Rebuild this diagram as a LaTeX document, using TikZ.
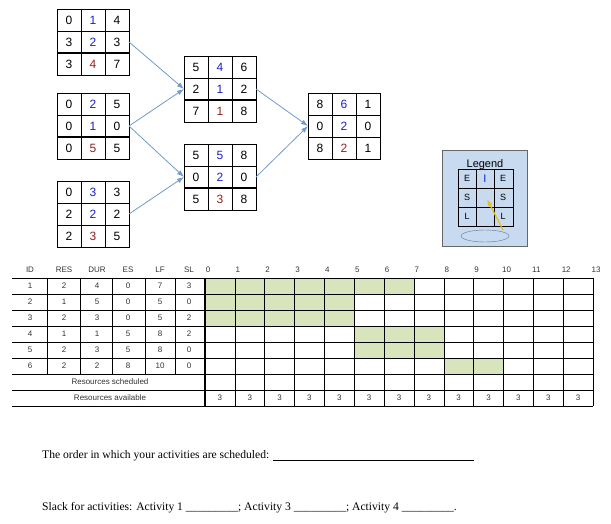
\documentclass[tikz,border=0pt]{standalone}
\usepackage{fontspec}
\setmainfont{Liberation Sans}
\newfontfamily\serif{Liberation Serif}
\usetikzlibrary{arrows.meta}
\definecolor{blu}{RGB}{30,30,200}
\definecolor{redb}{RGB}{150,30,30}
\definecolor{arr}{RGB}{110,155,205}
\definecolor{grn}{RGB}{215,228,188}
\definecolor{lgd}{RGB}{200,218,240}
\definecolor{yel}{RGB}{235,190,30}
\tikzset{
 num/.style={font=\fontsize{12}{13}\selectfont},
 tab/.style={font=\fontsize{8}{9}\selectfont, text=black!80},
 link/.style={draw=arr, line width=0.8pt, -{Latex[length=7pt,width=5pt]}},
 q/.style={anchor=west, font=\serif\fontsize{11.6}{13}\selectfont, inner sep=0},
}
\newcommand{\netbox}[4]{% name, x, y, thick width
 \begin{scope}[shift={(#2,#3)}]
  \draw[line width=0.8pt] (0,0) rectangle (72,66);
  \draw[line width=0.8pt] (24,0)--(24,66) (48,0)--(48,66) (0,22)--(72,22);
  \draw[line width=#4] (0,44)--(72,44);
  \coordinate (#1-l) at (0,33); \coordinate (#1-r) at (72,33);
 \end{scope}}
\newcommand{\cells}[6]{%
 \node[num] at (#1+12,#2+#3*22-11) {#4};
 \node[num] at (#1+36,#2+#3*22-11) {#5};
 \node[num] at (#1+60,#2+#3*22-11) {#6};}
\begin{document}
\begin{tikzpicture}[x=1pt,y=-1pt]
\useasboundingbox (0,0) rectangle (611,524);
\netbox{b1}{57}{9}{1.6pt}
\cells{57}{9}{1}{0}{\color{blu}1}{4}\cells{57}{9}{2}{3}{\color{blu}2}{3}\cells{57}{9}{3}{3}{\color{redb}4}{7}
\netbox{b2}{57}{93}{1.6pt}
\cells{57}{93}{1}{0}{\color{blu}2}{5}\cells{57}{93}{2}{0}{\color{blu}1}{0}\cells{57}{93}{3}{0}{\color{redb}5}{5}
\netbox{b3}{57}{181}{0.8pt}
\cells{57}{181}{1}{0}{\color{blu}3}{3}\cells{57}{181}{2}{2}{\color{blu}2}{2}\cells{57}{181}{3}{2}{\color{redb}3}{5}
\netbox{b4}{184}{56}{1.6pt}
\cells{184}{56}{1}{5}{\color{blu}4}{6}\cells{184}{56}{2}{2}{\color{blu}1}{2}\cells{184}{56}{3}{7}{\color{redb}1}{8}
\netbox{b5}{184}{144}{1.6pt}
\cells{184}{144}{1}{5}{\color{blu}5}{8}\cells{184}{144}{2}{0}{\color{blu}2}{0}\cells{184}{144}{3}{5}{\color{redb}3}{8}
\netbox{b6}{308}{93}{0.8pt}
\cells{308}{93}{1}{8}{\color{blu}6}{1}\cells{308}{93}{2}{0}{\color{blu}2}{0}\cells{308}{93}{3}{8}{\color{redb}2}{1}
\draw[link] (b1-r)--(b4-l);
\draw[link] (b2-r)--(b4-l);
\draw[link] (b2-r)--(b5-l);
\draw[link] (b3-r)--(b5-l);
\draw[link] (b4-r)--(b6-l);
\draw[link] (b5-r)--(b6-l);
% legend
\draw[black!60, fill=lgd] (442,150) rectangle (527,246);
\draw[line width=0.7pt] (458,169) rectangle (513,226);
\draw[line width=0.7pt] (476,169)--(476,226) (494,169)--(494,226) (458,188)--(513,188) (458,207)--(513,207);
\node[font=\fontsize{11}{12}\selectfont] (lg) at (485,165) {Legend};
\foreach \t/\x/\y in {E/467/178.5,E/503/178.5,S/467/197.5,S/503/197.5,L/467/216.5,L/503/216.5}
  \node[font=\fontsize{9}{10}\selectfont] at (\x,\y) {\t};
\node[font=\fontsize{11}{11}\selectfont, text=blu] at (485,178.5) {I};
\draw[draw=arr!80!black, fill=lgd] (485,236) ellipse (24 and 6);
\coordinate (ys) at (503,230); \coordinate (ye) at (487,199);
\draw[draw=yel, line width=1.2pt, -{Latex[length=7pt,width=5pt]}] (ys)--(ye);
% table
\foreach \c in {0,...,6}{\fill[grn] (205+\c*29.85,278) rectangle (205+\c*29.85+29.85,294);}
\foreach \c in {0,...,4}{\fill[grn] (205+\c*29.85,294) rectangle (205+\c*29.85+29.85,326);}
\foreach \c in {5,6,7}{\fill[grn] (205+\c*29.85,326) rectangle (205+\c*29.85+29.85,358);}
\foreach \c in {8,9}{\fill[grn] (205+\c*29.85,358) rectangle (205+\c*29.85+29.85,374);}
\foreach \i in {0,...,8}{\draw[line width=0.6pt] (12,278+\i*16)--(593,278+\i*16);}
\foreach \x in {47,80,112,145,175}{\draw[line width=0.6pt] (\x,278)--(\x,374);}
\draw[line width=2pt] (205,278)--(205,406);
\foreach \c in {1,...,13}{\draw[line width=0.6pt] (205+\c*29.85,278)--(205+\c*29.85,406);}
\foreach \t/\x in {ID/30,RES/64,DUR/97,ES/128,LF/160,SL/189}{\node[tab] at (\x,270) {\t};}
\foreach \c in {0,...,13}{\node[tab] at (208+\c*29.85,270) {\c};}
\foreach \a/\b/\c/\d/\e/\f [count=\r] in {1/2/4/0/7/3,2/1/5/0/5/0,3/2/3/0/5/2,4/1/1/5/8/2,5/2/3/5/8/0,6/2/2/8/10/0}{
 \node[tab] at (30,278+\r*16-8) {\a};
 \node[tab] at (64,278+\r*16-8) {\b};
 \node[tab] at (97,278+\r*16-8) {\c};
 \node[tab] at (128,278+\r*16-8) {\d};
 \node[tab] at (160,278+\r*16-8) {\e};
 \node[tab] at (189,278+\r*16-8) {\f};}
\node[tab] at (110,382) {Resources scheduled};
\node[tab] at (110,398) {Resources available};
\foreach \c in {0,...,12}{\node[tab] at (205+\c*29.85+14.9,398) {3};}
% questions
\node[q] (q1) at (42,456) {The order in which your activities are scheduled:};
\draw[line width=0.8pt] (273,460)--(474,460);
\node[q] (q2) at (42,508) {Slack for activities: Activity 1 \_\_\_\_\_\_\_\_\_; Activity 3 \_\_\_\_\_\_\_\_\_; Activity 4 \_\_\_\_\_\_\_\_\_.};
\end{tikzpicture}
\end{document}
